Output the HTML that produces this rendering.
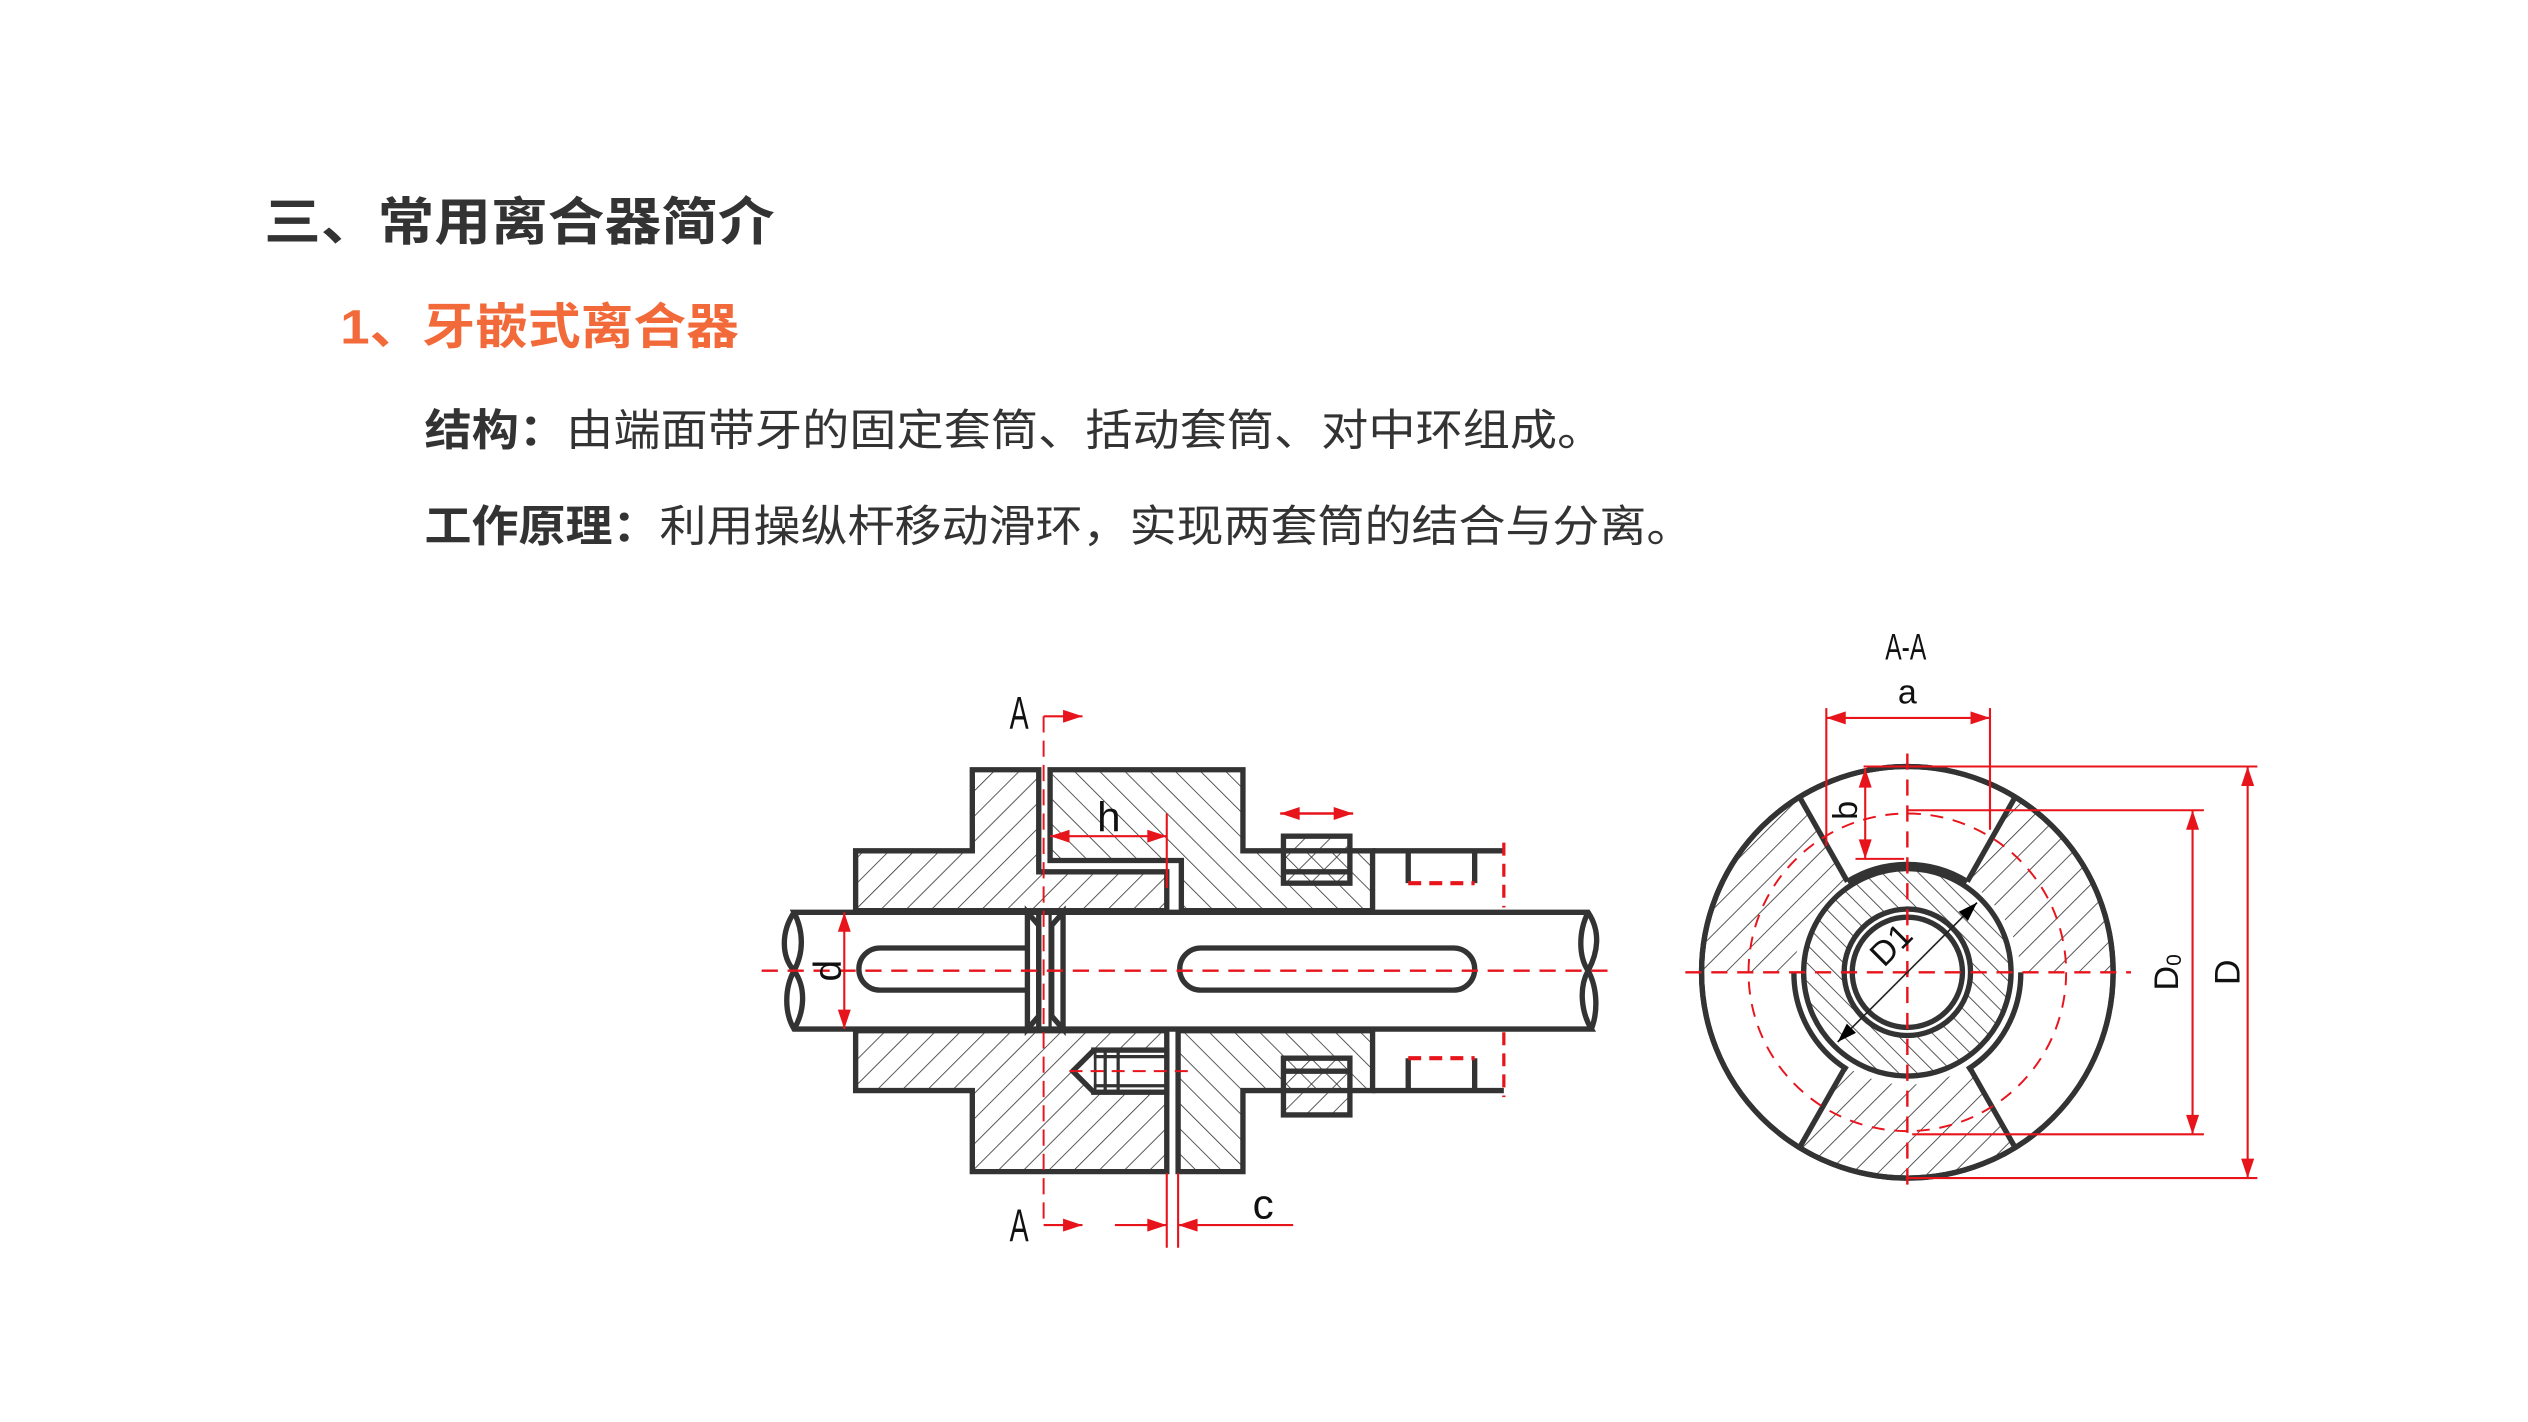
<!DOCTYPE html>
<html><head><meta charset="utf-8"><style>
html,body{margin:0;padding:0;background:#fff;}
svg{display:block;}
</style></head><body>
<svg width="2528" height="1422" viewBox="0 0 1560 877.5" xmlns="http://www.w3.org/2000/svg">
<defs>
<pattern id="h1" width="11" height="11" patternUnits="userSpaceOnUse" patternTransform="rotate(45)"><line x1="0" y1="0" x2="0" y2="11" stroke="#333" stroke-width="1"/></pattern>
<pattern id="h2" width="11" height="11" patternUnits="userSpaceOnUse" patternTransform="rotate(-45)"><line x1="0" y1="0" x2="0" y2="11" stroke="#333" stroke-width="1"/></pattern>
<pattern id="h3" width="8" height="8" patternUnits="userSpaceOnUse" patternTransform="rotate(-45)"><line x1="0" y1="0" x2="0" y2="8" stroke="#333" stroke-width="1"/></pattern>
<marker id="ar" viewBox="0 0 12 8" refX="12" refY="4" markerWidth="13" markerHeight="8" markerUnits="userSpaceOnUse" orient="auto-start-reverse"><path d="M0,0 L12,4 L0,8Z" fill="#e8141c"/></marker>
<marker id="ab" viewBox="0 0 12 8" refX="12" refY="4" markerWidth="12" markerHeight="8" markerUnits="userSpaceOnUse" orient="auto-start-reverse"><path d="M0,0 L12,4 L0,8Z" fill="#000"/></marker>
</defs>

<g font-family="'Liberation Sans','Noto Sans CJK SC',sans-serif">
<text x="163" y="148" font-size="32" font-weight="bold" fill="#333" textLength="315" lengthAdjust="spacingAndGlyphs">三、常用离合器简介</text>
<text x="210" y="212" font-size="30" font-weight="bold" fill="#f26a3a" textLength="246" lengthAdjust="spacingAndGlyphs">1、牙嵌式离合器</text>
<text x="262" y="275" font-size="27" fill="#333" textLength="728" lengthAdjust="spacingAndGlyphs"><tspan font-weight="bold">结构：</tspan>由端面带牙的固定套筒、括动套筒、对中环组成。</text>
<text x="262" y="334" font-size="27" fill="#333" textLength="783" lengthAdjust="spacingAndGlyphs"><tspan font-weight="bold">工作原理：</tspan>利用操纵杆移动滑环，实现两套筒的结合与分离。</text>
</g>

<g stroke="#333" stroke-width="3.3" stroke-linejoin="miter">
<path d="M528,525 L600,525 L600,475 L641,475 L641,538 L720,538 L720,562 L528,562 Z" fill="url(#h1)"/>
<path d="M648,475 L767,475 L767,525 L847,525 L847,562 L729,562 L729,531 L648,531 Z" fill="url(#h2)"/>
<path d="M528,636 L720,636 L720,723 L600,723 L600,673 L528,673 Z" fill="url(#h1)"/>
<path d="M727,636 L847,636 L847,673 L767,673 L767,723 L727,723 Z" fill="url(#h2)"/>
<rect x="792" y="516" width="41" height="29" fill="url(#h1)"/>
<line x1="792" y1="538" x2="833" y2="538"/>
<rect x="792" y="653" width="41" height="35" fill="url(#h1)"/>
<line x1="792" y1="661" x2="833" y2="661"/>
<rect x="675" y="648" width="45" height="26" fill="#fff"/>
<path d="M675,648 L662,661 L675,674" fill="#fff"/>
<line x1="682" y1="648" x2="682" y2="674" stroke-width="2"/>
<line x1="690" y1="648" x2="690" y2="674" stroke-width="2"/>
<line x1="675" y1="652" x2="720" y2="652" stroke-width="2"/>
<line x1="675" y1="670" x2="720" y2="670" stroke-width="2"/>
<path d="M847,525 L928,525 M869,525 L869,545 M910,525 L910,545 M847,673 L928,673 M869,673 L869,653 M910,673 L910,653" fill="none"/>
<path d="M490,563 L980,563 C988,575 986,588 980,599 C974,610 976,625 982,635 L490,635 C484,625 484,610 490,599 C496,588 496,575 490,563 Z" fill="#fff"/>
<path d="M490,563 C482,575 482,590 490,599 C498,610 496,625 490,635" fill="none"/>
<path d="M980,563 C974,575 974,590 980,599 C986,610 986,625 982,635" fill="none"/>
<path d="M641,585 L543,585 A13,13 0 0 0 543,611 L641,611" fill="none"/>
<rect x="728" y="585" width="182" height="26" rx="13" fill="none"/>
<path d="M634,563 L641,571 L641,627 L634,635 Z M656,563 L649,571 L649,627 L656,635 Z" fill="#fff"/>
<line x1="641" y1="563" x2="641" y2="635"/>
<line x1="648" y1="563" x2="648" y2="635" stroke-width="2"/>
</g>

<g stroke="#e8141c" fill="none">
<line x1="470" y1="599" x2="995" y2="599" stroke-width="1.5" stroke-dasharray="10,6"/>
<line x1="644" y1="442" x2="644" y2="756" stroke-width="1.2" stroke-dasharray="10,5"/>
<line x1="644" y1="442" x2="668" y2="442" stroke-width="1.3" marker-end="url(#ar)"/>
<line x1="644" y1="756" x2="668" y2="756" stroke-width="1.3" marker-end="url(#ar)"/>
<line x1="928" y1="520" x2="928" y2="560" stroke-width="2" stroke-dasharray="8,5"/>
<line x1="928" y1="637" x2="928" y2="677" stroke-width="2" stroke-dasharray="8,5"/>
<line x1="869" y1="545" x2="910" y2="545" stroke-width="2.5" stroke-dasharray="8,5"/>
<line x1="869" y1="653" x2="910" y2="653" stroke-width="2.5" stroke-dasharray="8,5"/>
<line x1="660" y1="661" x2="735" y2="661" stroke-width="1.2" stroke-dasharray="8,5"/>
<line x1="720" y1="502" x2="720" y2="548" stroke-width="1.3"/>
<line x1="648" y1="516" x2="720" y2="516" stroke-width="1.3" marker-start="url(#ar)" marker-end="url(#ar)"/>
<line x1="720" y1="724" x2="720" y2="770" stroke-width="1.3"/>
<line x1="727" y1="724" x2="727" y2="770" stroke-width="1.3"/>
<line x1="688" y1="756" x2="720" y2="756" stroke-width="1.3" marker-end="url(#ar)"/>
<line x1="798" y1="756" x2="727" y2="756" stroke-width="1.3" marker-end="url(#ar)"/>
<line x1="521" y1="563" x2="521" y2="635" stroke-width="1.3" marker-start="url(#ar)" marker-end="url(#ar)"/>
<line x1="790" y1="502" x2="835" y2="502" stroke-width="1.5" marker-start="url(#ar)" marker-end="url(#ar)"/>
</g>
<g font-family="'Liberation Sans',sans-serif" fill="#111">
<text x="0" y="0" font-size="22" transform="translate(623,450) scale(0.8,1.3)">A</text>
<text x="0" y="0" font-size="22" transform="translate(623,766) scale(0.8,1.3)">A</text>
<text x="677" y="513" font-size="26">h</text>
<text x="773" y="752" font-size="26">c</text>
<text x="0" y="0" font-size="24" transform="translate(519,599) rotate(-90)" text-anchor="middle">d</text>
</g>

<g stroke="#333" stroke-width="3.3">
<circle cx="1177" cy="600" r="127" fill="#fff"/>
<path d="M1110,491 A127,127 0 0 0 1050,600 L1107,600 A70,70 0 0 1 1140,544 Z" fill="url(#h1)" stroke="none"/>
<path d="M1244,491 A127,127 0 0 1 1304,600 L1247,600 A70,70 0 0 0 1214,544 Z" fill="url(#h1)" stroke="none"/>
<path d="M1139,658 L1110,709 A127,127 0 0 0 1244,709 L1215,658 A69,69 0 0 1 1139,658 Z" fill="url(#h1)" stroke="none"/>
<path d="M1177,536 A64,64 0 1 1 1176.9,536 Z M1177,561 A39,39 0 1 0 1177.1,561 Z" fill="url(#h3)" fill-rule="evenodd" stroke="none"/>
<circle cx="1177" cy="600" r="127" fill="none"/>
<line x1="1110" y1="491" x2="1140" y2="544"/>
<line x1="1244" y1="491" x2="1214" y2="544"/>
<line x1="1139" y1="658" x2="1110" y2="709"/>
<line x1="1215" y1="658" x2="1244" y2="709"/>
<path d="M1140,544 A70,70 0 0 1 1214,544" fill="none"/>
<path d="M1107,600 A70,70 0 0 0 1140,660" fill="none"/>
<path d="M1247,600 A70,70 0 0 1 1214,660" fill="none"/>
<circle cx="1177" cy="600" r="64" fill="none"/>
<circle cx="1177" cy="600" r="39" fill="none"/>
<circle cx="1177" cy="600" r="34" fill="#fff"/>
</g>
<g stroke="#e8141c" fill="none">
<circle cx="1177" cy="600" r="98" stroke-width="1.2" stroke-dasharray="8,6"/>
<line x1="1040" y1="600" x2="1315" y2="600" stroke-width="1.5" stroke-dasharray="10,6"/>
<line x1="1177" y1="465" x2="1177" y2="735" stroke-width="1.5" stroke-dasharray="10,6"/>
<line x1="1127" y1="437" x2="1127" y2="522" stroke-width="1.3"/>
<line x1="1228" y1="437" x2="1228" y2="512" stroke-width="1.3"/>
<line x1="1127" y1="443" x2="1228" y2="443" stroke-width="1.3" marker-start="url(#ar)" marker-end="url(#ar)"/>
<line x1="1151" y1="474" x2="1151" y2="530" stroke-width="1.3" marker-start="url(#ar)" marker-end="url(#ar)"/>
<line x1="1145" y1="530" x2="1175" y2="530" stroke-width="1.3"/>
<line x1="1177" y1="500" x2="1360" y2="500" stroke-width="1.3"/>
<line x1="1180" y1="700" x2="1360" y2="700" stroke-width="1.3"/>
<line x1="1353" y1="500" x2="1353" y2="700" stroke-width="1.3" marker-start="url(#ar)" marker-end="url(#ar)"/>
<line x1="1150" y1="473" x2="1393" y2="473" stroke-width="1.3"/>
<line x1="1177" y1="727" x2="1393" y2="727" stroke-width="1.3"/>
<line x1="1387" y1="473" x2="1387" y2="727" stroke-width="1.3" marker-start="url(#ar)" marker-end="url(#ar)"/>
</g>
<line x1="1134" y1="643" x2="1220" y2="557" stroke="#222" stroke-width="1" marker-start="url(#ab)" marker-end="url(#ab)"/>
<g font-family="'Liberation Sans',sans-serif" fill="#111">
<text x="0" y="0" font-size="19" text-anchor="middle" transform="translate(1176,407) scale(0.8,1.2)">A-A</text>
<text x="1177" y="434" font-size="21" text-anchor="middle">a</text>
<text x="0" y="0" font-size="21" text-anchor="middle" transform="translate(1146,500) rotate(-90)">b</text>
<text x="0" y="0" font-size="21" text-anchor="middle" transform="translate(1172,588) rotate(-45)">D1</text>
<text x="0" y="0" font-size="21" text-anchor="middle" transform="translate(1344,600) rotate(-90)">D<tspan font-size="13" dy="2">0</tspan></text>
<text x="0" y="0" font-size="22" text-anchor="middle" transform="translate(1382,600) rotate(-90)">D</text>
</g>
</svg>
</body></html>
